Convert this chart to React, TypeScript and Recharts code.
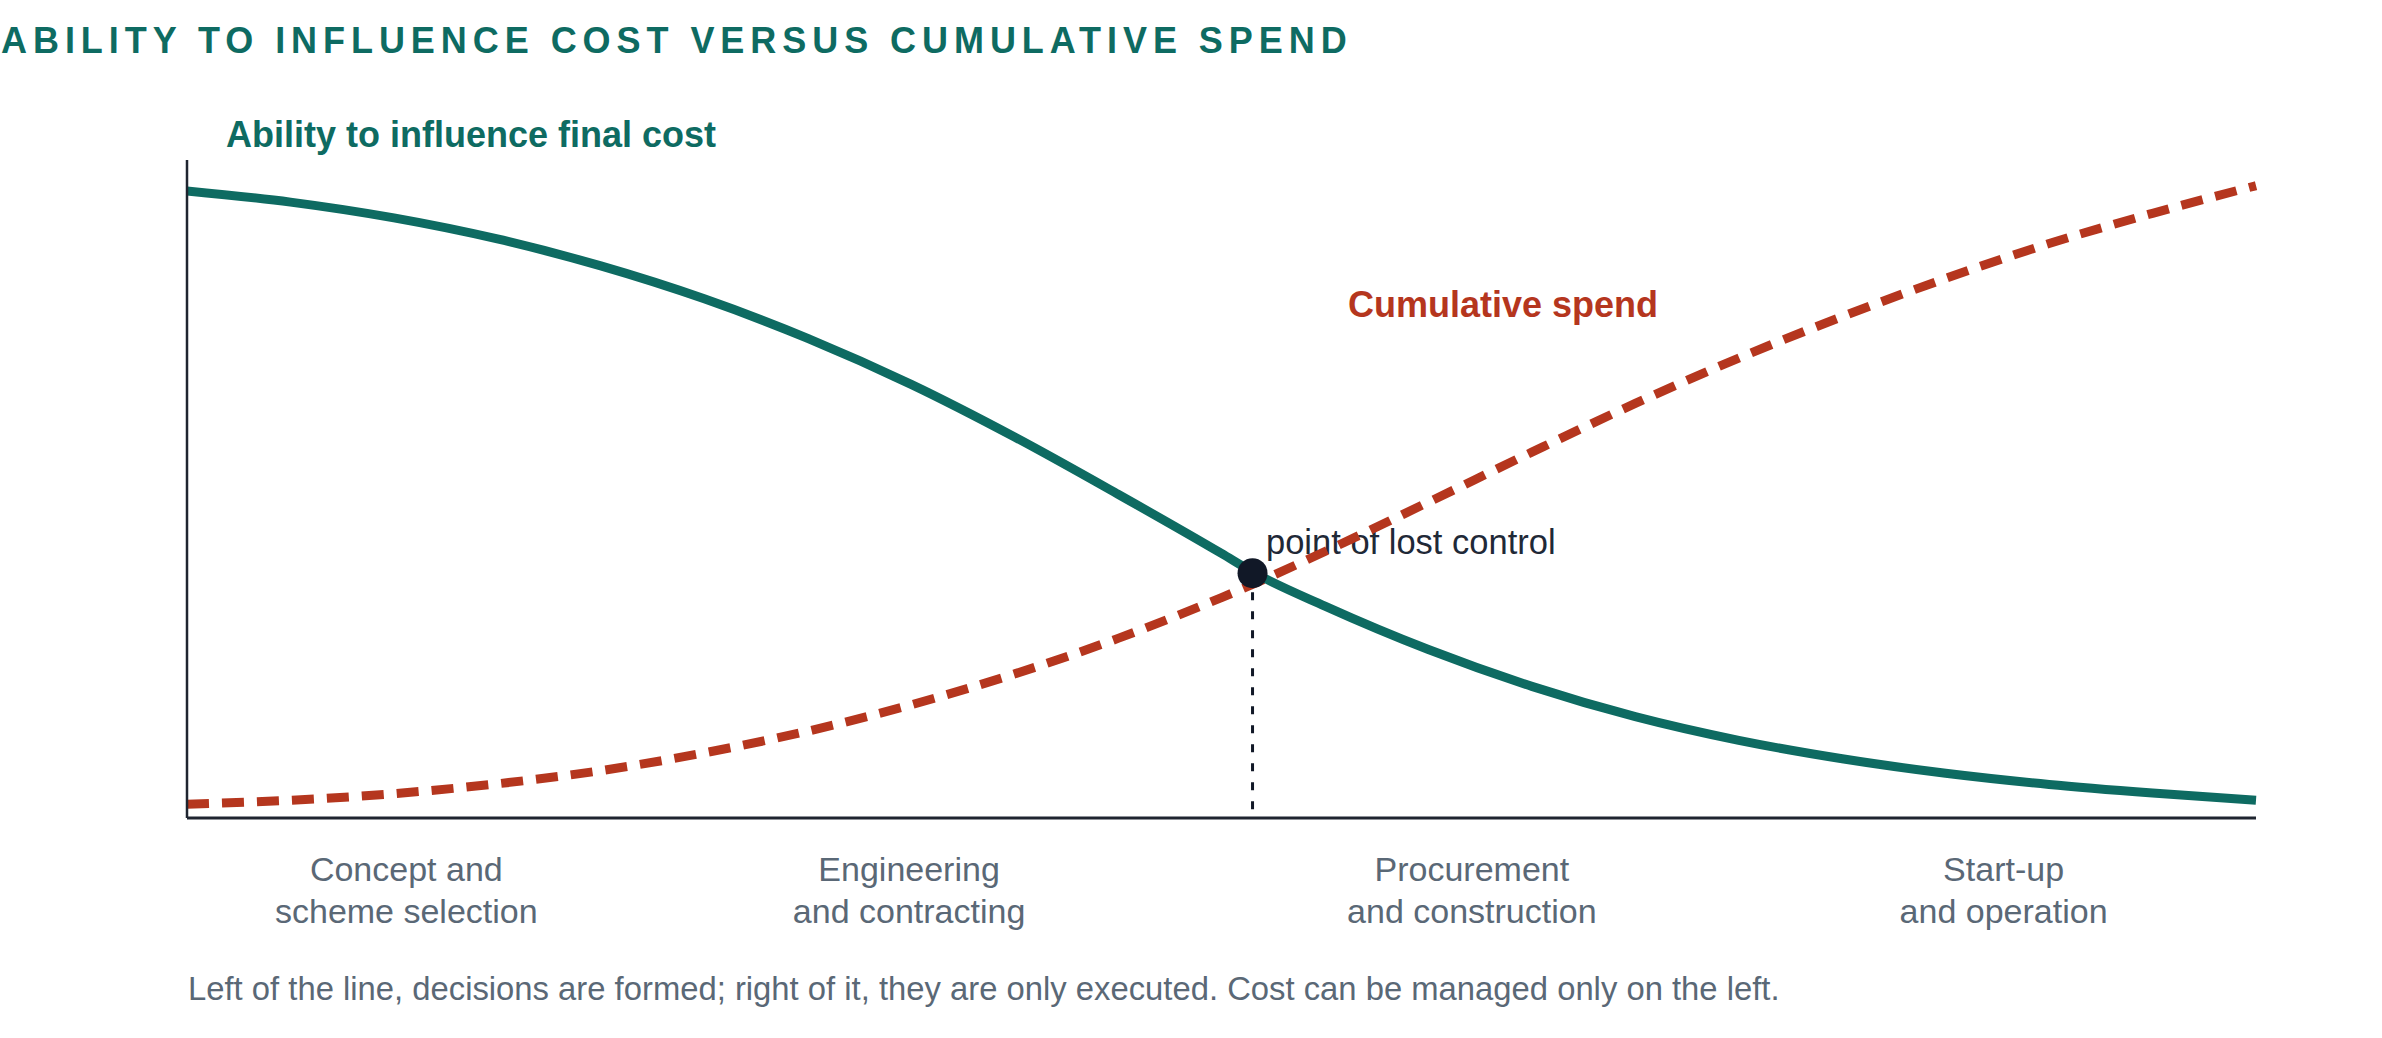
import { LineChart, Line, XAxis, YAxis, ReferenceDot, ReferenceLine } from "recharts";

// project progress (0-100) and the two curves
const progress = [0, 5, 10, 15, 20, 25, 30, 35, 40, 45, 50, 51.5, 55, 60, 65, 70, 75, 80, 85, 90, 95, 100];
const influence = [95.3, 93.6, 91.2, 88.0, 83.9, 78.9, 72.9, 65.9, 57.9, 49.2, 40.2, 37.4, 32.2, 25.6, 20.0, 15.4, 11.8, 9.0, 6.8, 5.1, 3.8, 2.7];
const spend = [2.1, 2.7, 3.7, 5.2, 7.2, 9.9, 13.2, 17.2, 21.9, 27.3, 33.5, 35.5, 40.5, 48.0, 55.6, 63.0, 69.9, 76.2, 82.0, 87.3, 91.9, 96.1];

const phaseBounds = [0, 21.2, 48.6, 75.6, 100];
const phaseLabels = [
  ["Concept and", "scheme selection"],
  ["Engineering", "and contracting"],
  ["Procurement", "and construction"],
  ["Start-up", "and operation"],
];
const lostControl = { x: 51.5, y: 37.2 };

const phaseTicks = phaseLabels.map((_, i) => (phaseBounds[i] + phaseBounds[i + 1]) / 2);
const data = progress.map((x, i) => ({ x, influence: influence[i], spend: spend[i] }));

const FONT = '"Liberation Sans", Arial, Helvetica, sans-serif';
const TEAL = "#0e6b62";
const RUST = "#b5361e";
const INK = "#111827";
const SLATE = "#5a6876";
const AXIS = "#1f2530";

function PhaseTick(props: any) {
  const { x, y, index } = props;
  const lines = phaseLabels[index] ?? [];
  return (
    <text x={x} y={y} textAnchor="middle" fill={SLATE} fontSize={34} fontFamily={FONT}>
      {lines.map((line, i) => (
        <tspan key={i} x={x} dy={i === 0 ? 63 : 42}>
          {line}
        </tspan>
      ))}
    </text>
  );
}

export default function App() {
  return (
    <div style={{ position: "absolute", left: 0, top: 0, width: 2382, height: 1038, background: "#fff" }}>
      <svg width={2382} height={1038} style={{ position: "absolute", left: 0, top: 0 }} fontFamily={FONT}>
        <text x={1} y={53} fill={TEAL} fontSize={36} fontWeight={700} letterSpacing={5.95}>
          ABILITY TO INFLUENCE COST VERSUS CUMULATIVE SPEND
        </text>
        <text x={226} y={147} fill={TEAL} fontSize={36} fontWeight={700}>
          Ability to influence final cost
        </text>
        <text x={1348} y={317} fill={RUST} fontSize={36} fontWeight={700}>
          Cumulative spend
        </text>
        <text x={1266} y={554} fill="#1f2937" fontSize={34.5}>
          point of lost control
        </text>
        <text x={188} y={1000} fill={SLATE} fontSize={32.8}>
          Left of the line, decisions are formed; right of it, they are only executed. Cost can be managed only on the left.
        </text>
      </svg>
      <div style={{ position: "absolute", left: 0, top: 0 }}>
        <LineChart width={2382} height={1038} data={data} margin={{ top: 160, right: 126, bottom: 100, left: 127 }}>
          <XAxis
            dataKey="x"
            type="number"
            domain={[0, 100]}
            ticks={phaseTicks}
            tick={<PhaseTick />}
            tickLine={false}
            tickSize={0}
            tickMargin={0}
            height={120}
            interval={0}
            axisLine={{ stroke: AXIS, strokeWidth: 3 }}
          />
          <YAxis
            type="number"
            domain={[0, 100]}
            tick={false}
            tickLine={false}
            width={60}
            axisLine={{ stroke: AXIS, strokeWidth: 2.5 }}
          />
          <ReferenceLine
            segment={[
              { x: lostControl.x, y: lostControl.y },
              { x: lostControl.x, y: 0 },
            ]}
            stroke={INK}
            strokeWidth={3}
            strokeDasharray="8 11"
          />
          <Line
            type="monotone"
            dataKey="spend"
            stroke={RUST}
            strokeWidth={9}
            strokeDasharray="22 13"
            dot={false}
            activeDot={false}
            isAnimationActive={false}
          />
          <Line
            type="monotone"
            dataKey="influence"
            stroke={TEAL}
            strokeWidth={9}
            dot={false}
            activeDot={false}
            isAnimationActive={false}
          />
          <ReferenceDot x={lostControl.x} y={lostControl.y} r={15} fill={INK} stroke="none" />
        </LineChart>
      </div>
    </div>
  );
}
